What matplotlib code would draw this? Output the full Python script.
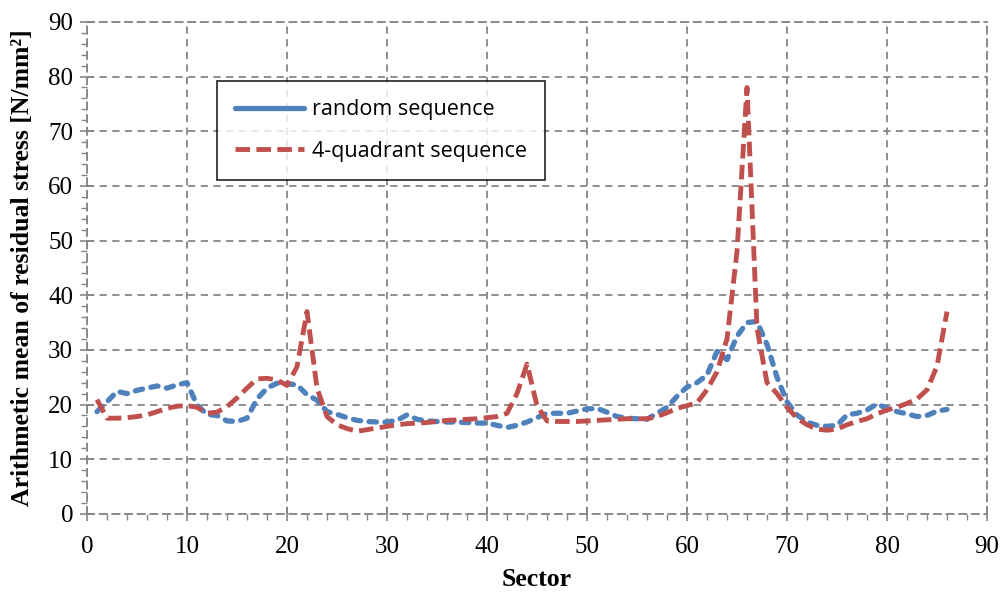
import matplotlib
matplotlib.use("Agg")
import matplotlib.pyplot as plt
from matplotlib.lines import Line2D
from matplotlib.ticker import MultipleLocator

# sectors 1..86
sectors = list(range(1, 87))

random_seq = [
    18.7, 20.5, 22.4, 22.0, 22.6, 23.0, 23.4, 23.0, 23.6, 24.0,
    19.9, 18.2, 18.0, 17.0, 16.9, 17.5, 21.0, 23.0, 23.9, 23.8,
    23.6, 21.8, 20.8, 18.7, 18.2, 17.6, 17.1, 16.9, 16.8, 16.8,
    17.1, 18.1, 17.3, 17.0, 16.9, 16.8, 16.8, 16.7, 16.6, 16.6,
    16.2, 15.8, 16.2, 16.8, 17.6, 18.4, 18.4, 18.4, 18.8, 19.2,
    19.3, 18.6, 17.8, 17.5, 17.4, 17.3, 18.4, 19.5, 21.5, 23.2,
    24.0, 25.4, 29.7, 28.2, 32.5, 35.0, 35.2, 31.0, 25.0, 20.5,
    18.1, 16.8, 16.2, 16.0, 16.2, 18.1, 18.4, 19.0, 20.1, 19.3,
    18.7, 18.3, 17.8, 18.0, 18.8, 19.1,
]

quadrant_seq = [
    20.9, 17.5, 17.5, 17.6, 17.8, 18.1, 18.7, 19.3, 19.7, 19.8,
    19.5, 18.4, 18.6, 19.6, 21.2, 23.0, 24.7, 24.8, 24.5, 23.5,
    26.9, 37.0, 23.0, 17.8, 16.3, 15.6, 15.1, 15.4, 15.7, 16.0,
    16.3, 16.5, 16.6, 16.7, 16.9, 17.1, 17.2, 17.3, 17.4, 17.6,
    17.8, 18.4, 22.0, 27.4, 19.8, 17.0, 16.9, 16.9, 16.9, 17.0,
    17.1, 17.2, 17.3, 17.4, 17.4, 17.4, 17.8, 18.5, 19.3, 19.8,
    20.3, 22.7, 26.0, 32.0, 48.0, 78.0, 34.0, 24.0, 22.0, 19.5,
    17.5, 16.3, 15.5, 15.3, 15.5, 16.3, 16.9, 17.4, 18.3, 19.0,
    19.5, 20.2, 21.0, 22.7, 27.0, 37.0,
]

blue = "#4F81BD"
red = "#C0504D"
grid_col = "#868686"

fig = plt.figure(figsize=(10, 5.92), dpi=100)
ax = fig.add_axes([0.087, 0.132, 0.900, 0.831])

ax.plot(sectors, random_seq, color=blue, lw=3.8,
        linestyle=(0, (1.4, 1.6)), dash_capstyle="round", dash_joinstyle="round")
ax.plot(sectors, quadrant_seq, color=red, lw=3.5,
        linestyle=(0, (3.0, 1.3)), dash_joinstyle="round")

ax.set_xlim(0, 90)
ax.set_ylim(0, 90)
ax.xaxis.set_major_locator(MultipleLocator(10))
ax.yaxis.set_major_locator(MultipleLocator(10))
ax.xaxis.set_minor_locator(MultipleLocator(2))
ax.yaxis.set_minor_locator(MultipleLocator(2))

ax.grid(True, which="major", color=grid_col, linestyle=(0, (4, 3)), lw=1.3)
for sp in ax.spines.values():
    sp.set_color(grid_col)
    sp.set_linestyle((0, (4, 3)))
    sp.set_linewidth(1.3)

ax.tick_params(which="major", direction="inout", length=10, width=1.2,
               color=grid_col, labelsize=18, pad=5)
ax.tick_params(axis="x", which="major", pad=11)
ax.tick_params(which="minor", direction="out", length=4, width=1.0, color=grid_col)
for lab in ax.get_xticklabels() + ax.get_yticklabels():
    lab.set_family("Liberation Serif")

ax.set_xlabel("Sector", family="Liberation Serif", fontweight="bold",
              fontsize=18.5, labelpad=7)
ax.set_ylabel("Arithmetic mean of residual stress [N/mm²]", family="Liberation Serif",
              fontweight="bold", fontsize=18.5, labelpad=10)

handles = [
    Line2D([], [], color=blue, lw=3.8, solid_capstyle="round"),
    Line2D([], [], color=red, lw=3.5, linestyle=(0, (3.0, 1.3))),
]
leg = ax.legend(handles, ["random sequence", "4-quadrant sequence"],
                loc="upper left", bbox_to_anchor=(0.1444, 0.880),
                prop={"family": "Open Sans", "size": 15.5},
                frameon=True, fancybox=False, handlelength=3.2,
                borderpad=0.85, labelspacing=0.95, handletextpad=0.35,
                borderaxespad=0)
leg.get_frame().set_edgecolor("black")
leg.get_frame().set_linewidth(1.3)

fig.savefig("out.png", dpi=100)
